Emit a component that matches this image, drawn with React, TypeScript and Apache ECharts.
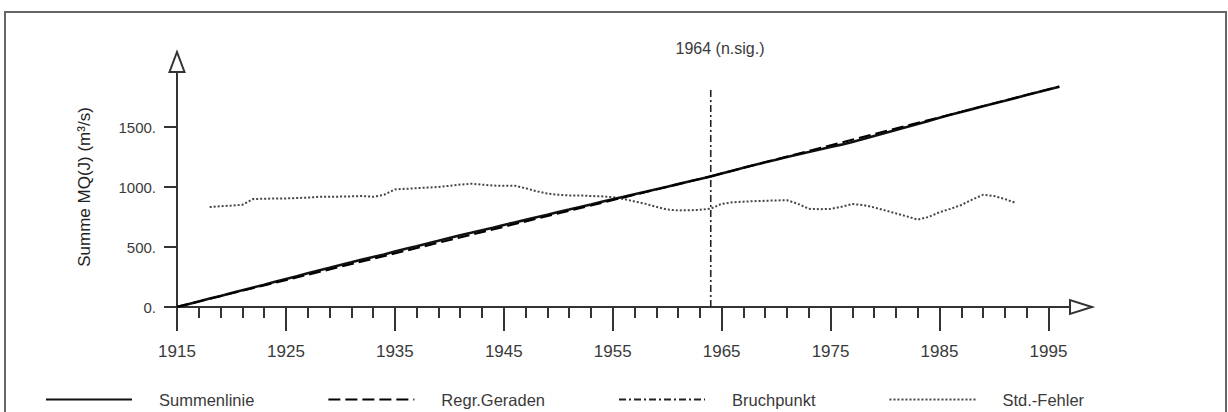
import React, { useEffect, useRef } from "react";
import * as echarts from "echarts";

// Summenlinie: cumulative annual mean discharge MQ(J), 1915..1996
const sumStartYear = 1915;
const cumulativeSum = [
  0, 22, 46, 70, 92, 117, 140, 163, 186, 210, 234, 257, 281, 305, 327, 350, 372, 395, 417, 438,
  462, 485, 507, 530, 552, 575, 598, 618, 640, 661, 684, 705, 726, 748, 769, 791, 812, 834, 855,
  877, 898, 918, 940, 960, 982, 1002, 1024, 1045, 1066, 1088, 1112, 1136, 1160, 1184, 1206, 1228,
  1250, 1271, 1291, 1312, 1333, 1353, 1375, 1400, 1425, 1450, 1476, 1500, 1525, 1551, 1577, 1602,
  1625, 1649, 1672, 1695, 1718, 1742, 1766, 1789, 1813, 1836,
];

// Regression lines before and after the break point
const regrBefore = [
  [1915, 2],
  [1964, 1090],
];
const regrAfter = [
  [1964, 1090],
  [1996, 1838],
];

// Break point
const breakYear = 1964;
const breakRange = [0, 1830];
const breakLabel = "1964 (n.sig.)";

// Std.-Fehler, 1918..1992
const stdStartYear = 1918;
const stdError = [
  833, 840, 845, 852, 900, 902, 905, 905, 908, 912, 918, 918, 920, 922, 925, 918, 935, 980, 985,
  990, 995, 1000, 1010, 1020, 1027, 1020, 1012, 1010, 1011, 990, 965, 945, 936, 930, 930, 925, 922,
  915, 900, 880, 860, 835, 812, 805, 806, 810, 820, 860, 872, 878, 882, 885, 888, 890, 860, 818,
  815, 818, 835, 858, 850, 830, 805, 780, 755, 728, 750, 790, 818, 850, 895, 935, 925, 900, 867,
];

// Axis ticks
const xMajorTicks = [1915, 1925, 1935, 1945, 1955, 1965, 1975, 1985, 1995];
const xMinorTicks = [
  1917, 1919, 1921, 1923, 1927, 1929, 1931, 1933, 1937, 1939, 1941, 1943, 1947, 1949, 1951, 1953,
  1957, 1959, 1961, 1963, 1967, 1969, 1971, 1973, 1977, 1979, 1981, 1983, 1987, 1989, 1991, 1993,
];
const yTicks = [0, 500, 1000, 1500];
const yTickLabels = ["0.", "500.", "1000.", "1500."];

const FONT = "'Liberation Sans', Arial, sans-serif";
const AXIS = "#333";
const TEXT = "#3a3a3a";

export default function App() {
  const ref = useRef<HTMLDivElement>(null);

  useEffect(() => {
    if (!ref.current) return;
    const chart = echarts.init(ref.current, undefined, { renderer: "svg" });

    const sumData = cumulativeSum.map((v, i) => [sumStartYear + i, v]);
    const stdData = stdError.map((v, i) => [stdStartYear + i, v]);

    const gridLeft = 177;
    const gridTop = 67;
    const gridBottom = 105;
    const gridRight = 136;
    const W = 1228;
    const H = 412;
    const x0 = gridLeft;
    const y0 = H - gridBottom;
    const xEnd = W - gridRight;

    chart.setOption({
      animation: false,
      backgroundColor: "#fff",
      grid: { left: gridLeft, right: gridRight, top: gridTop, bottom: gridBottom },
      xAxis: [
        {
          type: "value",
          min: 1915,
          max: 1999,
          splitLine: { show: false },
          axisLine: { show: true, onZero: false, lineStyle: { color: AXIS, width: 2 } },
          axisTick: {
            show: true,
            length: 24,
            customValues: xMajorTicks,
            lineStyle: { color: AXIS, width: 2 },
          },
          axisLabel: {
            customValues: xMajorTicks,
            margin: 36,
            fontSize: 17,
            fontFamily: FONT,
            color: TEXT,
            formatter: (v: number) => String(v),
          },
        },
        {
          type: "value",
          min: 1915,
          max: 1999,
          position: "bottom",
          splitLine: { show: false },
          axisLine: { show: false, onZero: false },
          axisTick: {
            show: true,
            length: 11,
            customValues: xMinorTicks,
            lineStyle: { color: AXIS, width: 2 },
          },
          axisLabel: { show: false },
        },
      ],
      yAxis: {
        type: "value",
        min: 0,
        max: 2000,
        splitLine: { show: false },
        axisLine: { show: true, onZero: false, lineStyle: { color: AXIS, width: 2 } },
        axisTick: { show: true, length: 13, customValues: yTicks, lineStyle: { color: AXIS, width: 2 } },
        axisLabel: {
          customValues: yTicks,
          margin: 21,
          fontSize: 15,
          fontFamily: FONT,
          color: TEXT,
          formatter: (v: number) => yTickLabels[yTicks.indexOf(v)] ?? "",
        },
        name: "Summe MQ(J) (m³/s)",
        nameLocation: "middle",
        nameGap: 84,
        nameTextStyle: { fontSize: 17, fontFamily: FONT, color: "#222" },
      },
      legend: {
        left: 40,
        top: 386,
        itemWidth: 86,
        itemHeight: 14,
        itemGap: 73,
        itemStyle: { opacity: 0 },
        textStyle: { fontSize: 16.5, fontFamily: FONT, color: TEXT, padding: [0, 0, 0, 22] },
        data: ["Summenlinie", "Regr.Geraden", "Bruchpunkt", "Std.-Fehler"],
      },
      graphic: [
        {
          type: "rect",
          shape: { x: 5, y: 12, width: 1221, height: 420 },
          style: { fill: "none", stroke: "#666", lineWidth: 2 },
          silent: true,
        },
        {
          type: "polygon",
          shape: { points: [[x0 - 7.5, gridTop + 5], [x0 + 7.5, gridTop + 5], [x0, gridTop - 15]] },
          style: { fill: "#fff", stroke: AXIS, lineWidth: 2 },
          z: 20,
        },
        {
          type: "polygon",
          shape: { points: [[xEnd - 22, y0 - 7], [xEnd - 22, y0 + 7], [xEnd, y0]] },
          style: { fill: "#fff", stroke: AXIS, lineWidth: 2 },
          z: 20,
        },
        {
          type: "text",
          x: 720,
          y: 48,
          style: {
            text: breakLabel,
            fontSize: 16,
            fontFamily: FONT,
            fill: TEXT,
            textAlign: "center",
            textVerticalAlign: "middle",
          },
        },
      ],
      series: [
        {
          name: "Summenlinie",
          type: "line",
          data: sumData,
          symbol: "none",
          z: 4,
          lineStyle: { color: "#111", width: 2.6 },
          itemStyle: { color: "#111" },
        },
        {
          name: "Regr.Geraden",
          type: "line",
          data: regrBefore,
          symbol: "none",
          z: 5,
          lineStyle: { color: "#000", width: 2, type: [12, 5] },
          itemStyle: { color: "#000" },
        },
        {
          name: "Regr.Geraden",
          type: "line",
          data: regrAfter,
          symbol: "none",
          z: 5,
          lineStyle: { color: "#000", width: 2, type: [12, 5] },
          itemStyle: { color: "#000" },
        },
        {
          name: "Bruchpunkt",
          type: "line",
          data: [
            [breakYear, breakRange[0]],
            [breakYear, breakRange[1]],
          ],
          symbol: "none",
          z: 3,
          lineStyle: { color: "#222", width: 1.6, type: [7, 3, 2, 3] },
          itemStyle: { color: "#222" },
        },
        {
          name: "Std.-Fehler",
          type: "line",
          data: stdData,
          symbol: "none",
          z: 3,
          lineStyle: { color: "#444", width: 2, type: [2, 2] },
          itemStyle: { color: "#444" },
        },
      ],
    });

    return () => chart.dispose();
  }, []);

  return (
    <div
      ref={ref}
      style={{ position: "fixed", left: 0, top: 0, width: 1228, height: 412 }}
    />
  );
}
